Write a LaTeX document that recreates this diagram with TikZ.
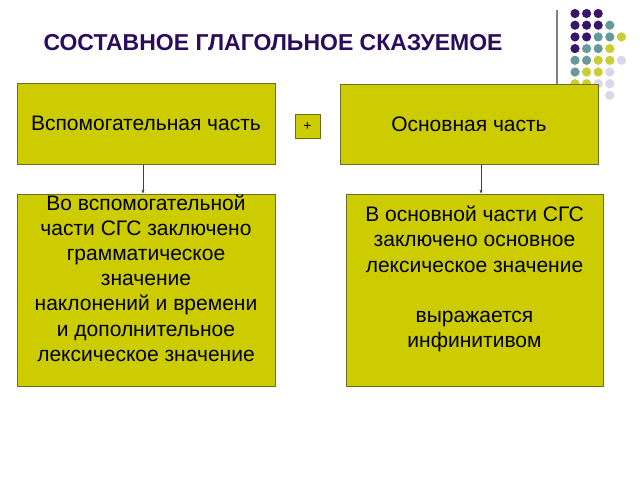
\documentclass[tikz,border=0pt]{standalone}
\usepackage{fontspec}
\setmainfont{Liberation Sans}
\usetikzlibrary{arrows.meta, positioning}
\definecolor{boxfill}{HTML}{CCCC00}
\definecolor{boxline}{HTML}{6E6E20}
\definecolor{titlecol}{HTML}{2B0C5C}
\definecolor{dotdark}{HTML}{3A1466}
\definecolor{dotteal}{HTML}{669999}
\definecolor{dotyellow}{HTML}{CCCC33}
\definecolor{dotlav}{HTML}{D8D8EA}
\tikzstyle{part} = [rectangle, draw=boxline, fill=boxfill, line width=0.8pt, minimum width=258pt, inner sep=0pt]
\tikzstyle{plusbox} = [part, minimum width=25pt, minimum height=24pt, font=\fontsize{14}{16}\selectfont]
\tikzstyle{txt} = [align=center, inner sep=0pt, font=\fontsize{21}{25.2}\selectfont]
\tikzstyle{reg} = [-{Stealth[length=4pt, width=3pt]}, draw=black!75, line width=0.6pt]

\begin{document}
\begin{tikzpicture}[x=1pt, y=-1pt]
  \useasboundingbox[fill=white] (0,0) rectangle (640,480);

  % decoration
  \draw[black!50, line width=1.2pt] (557,10) -- (557,120);
  \foreach \r/\m in {0/2,1/3,2/4,3/3,4/4,5/3,6/3} {
    \foreach \c in {0,...,\m} {
      \pgfmathtruncatemacro\s{\r+\c}
      \ifnum\s<4 \def\dotcol{dotdark}\else
        \ifnum\s<6 \def\dotcol{dotteal}\else
          \ifnum\s<8 \def\dotcol{dotyellow}\else \def\dotcol{dotlav}\fi\fi\fi
      \fill[\dotcol] (575+11.6*\c, 13.5+11.7*\r) circle (4.6);
    }
  }
  \fill[dotlav] (575+11.6*3, 13.5+11.7*7) circle (4.6);

  % title
  \node[font=\fontsize{23}{27}\selectfont\bfseries, text=titlecol, anchor=west] (title) at (40,43) {СОСТАВНОЕ ГЛАГОЛЬНОЕ СКАЗУЕМОЕ};

  % top row
  \node[part, minimum height=81pt, font=\fontsize{21}{25}\selectfont] (aux) at (146,123.5) {Вспомогательная часть};
  \node[plusbox] (plus) at (307.5,126) {+};
  \node[part, minimum height=80pt, font=\fontsize{21}{25}\selectfont] (main) at (469,124) {Основная часть};

  % bottom row
  \node[part, minimum height=192pt] (auxinfo) at (146,290) {};
  \node[part, minimum width=257pt, minimum height=192pt] (maininfo) at (474.5,290) {};
  \node[txt] (auxtext) at (146,278) {Во вспомогательной\\части СГС заключено\\ грамматическое\\значение\\наклонений и времени\\и дополнительное\\лексическое значение};
  \node[txt] (maintext) at (474.5,279) {В основной части СГС\\ заключено основное\\лексическое значение\\ \\выражается\\инфинитивом};

  % links
  \draw[reg] ([xshift=-3pt]aux.south) -- ([xshift=-3pt]aux.south |- auxinfo.north);
  \draw[reg] ([xshift=12pt]main.south) -- ([xshift=12pt]main.south |- maininfo.north);
\end{tikzpicture}
\end{document}
